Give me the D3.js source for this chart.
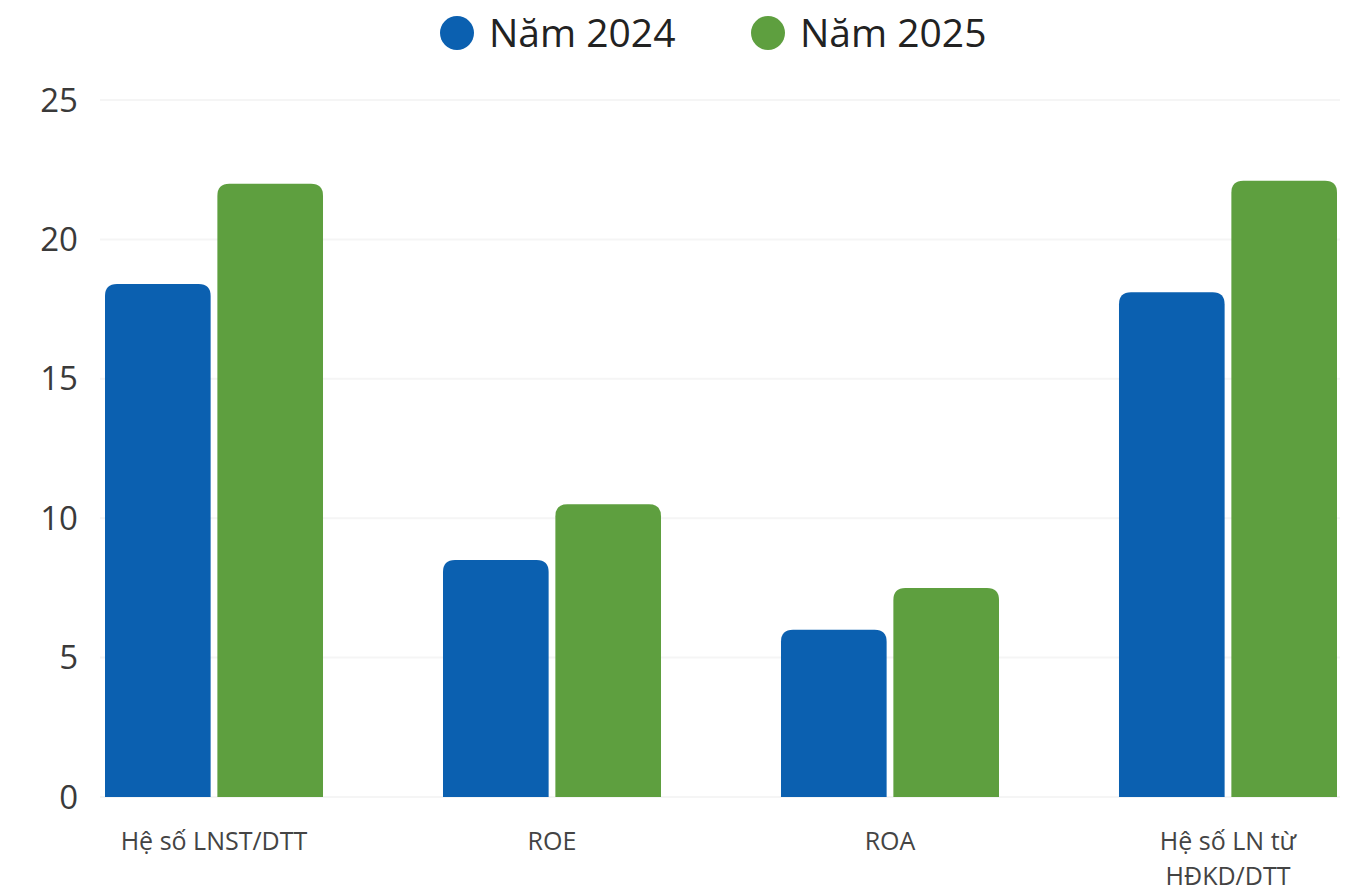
<!DOCTYPE html>
<html>
<head>
<meta charset="utf-8">
<script src="https://cdn.jsdelivr.net/npm/d3@7"></script>
<style>
  body { margin: 0; background: #fff; }
  text { font-family: "Open Sans", sans-serif; }
</style>
</head>
<body>
<script>
(function () {

    //chart data
    var categories = [["Hệ số LNST/DTT"], ["ROE"], ["ROA"], ["Hệ số LN từ", "HĐKD/DTT"]];
    var seriesNames = ["Năm 2024", "Năm 2025"];
    var values2024 = [18.4, 8.5, 6.0, 18.1];
    var values2025 = [22.0, 10.5, 7.5, 22.1];
    var yTicks = [0, 5, 10, 15, 20, 25];
    var colors = ["#0b60b0", "#5e9f3f"];

    var width = 1347,
        height = 895;

    var svg = d3.select("body")
        .append("svg")
        .attr("width", width)
        .attr("height", height);

    //scales
    var x0 = d3.scaleBand()
        .domain(d3.range(categories.length))
        .range([105, 1337])
        .paddingInner(0.355)
        .paddingOuter(0);

    var x1 = d3.scaleBand()
        .domain([0, 1])
        .range([0, x0.bandwidth()])
        .paddingInner(0.06);

    var y = d3.scaleLinear()
        .domain([0, 25])
        .range([797, 100]);

    //gridlines
    svg.selectAll(".grid")
        .data(yTicks)
        .enter()
        .append("line")
        .attr("x1", 100)
        .attr("x2", 1340)
        .attr("y1", function (d) { return y(d); })
        .attr("y2", function (d) { return y(d); })
        .attr("stroke", "#f5f5f5")
        .attr("stroke-width", 2);

    //y tick labels
    svg.selectAll(".ytick")
        .data(yTicks)
        .enter()
        .append("text")
        .attr("x", 78)
        .attr("y", function (d) { return y(d); })
        .attr("dy", "0.35em")
        .attr("text-anchor", "end")
        .attr("font-size", 33)
        .attr("fill", "#3a3a3a")
        .text(function (d) { return d; });

    //rounded-top bar path
    function barPath(x, yTop, w, yBottom, r) {
        r = Math.min(r, (yBottom - yTop), w / 2);
        return "M" + x + "," + yBottom +
            "V" + (yTop + r) +
            "Q" + x + "," + yTop + " " + (x + r) + "," + yTop +
            "H" + (x + w - r) +
            "Q" + (x + w) + "," + yTop + " " + (x + w) + "," + (yTop + r) +
            "V" + yBottom + "Z";
    }

    var series = [values2024, values2025];
    var groups = svg.selectAll(".group")
        .data(categories)
        .enter()
        .append("g")
        .attr("transform", function (d, i) { return "translate(" + x0(i) + ",0)"; });

    groups.selectAll("path")
        .data(function (d, i) {
            return series.map(function (s, k) { return { k: k, v: s[i] }; });
        })
        .enter()
        .append("path")
        .attr("d", function (d) {
            return barPath(x1(d.k), y(d.v), x1.bandwidth(), y(0), 12);
        })
        .attr("fill", function (d) { return colors[d.k]; });

    //category labels
    groups.append("text")
        .attr("text-anchor", "middle")
        .attr("font-size", 25)
        .attr("fill", "#444")
        .selectAll("tspan")
        .data(function (d) { return d; })
        .enter()
        .append("tspan")
        .attr("x", x0.bandwidth() / 2)
        .attr("y", function (d, j) { return 850 + j * 35; })
        .text(function (d) { return d; });

    //legend
    var legendX = [457, 768];
    var legend = svg.selectAll(".legend")
        .data(seriesNames)
        .enter()
        .append("g")
        .attr("transform", function (d, i) { return "translate(" + legendX[i] + ",33)"; });

    legend.append("circle")
        .attr("r", 17)
        .attr("fill", function (d, i) { return colors[i]; });

    legend.append("text")
        .attr("x", 32)
        .attr("dy", "0.36em")
        .attr("font-size", 39)
        .attr("fill", "#222")
        .text(function (d) { return d; });

})();
</script>
</body>
</html>
